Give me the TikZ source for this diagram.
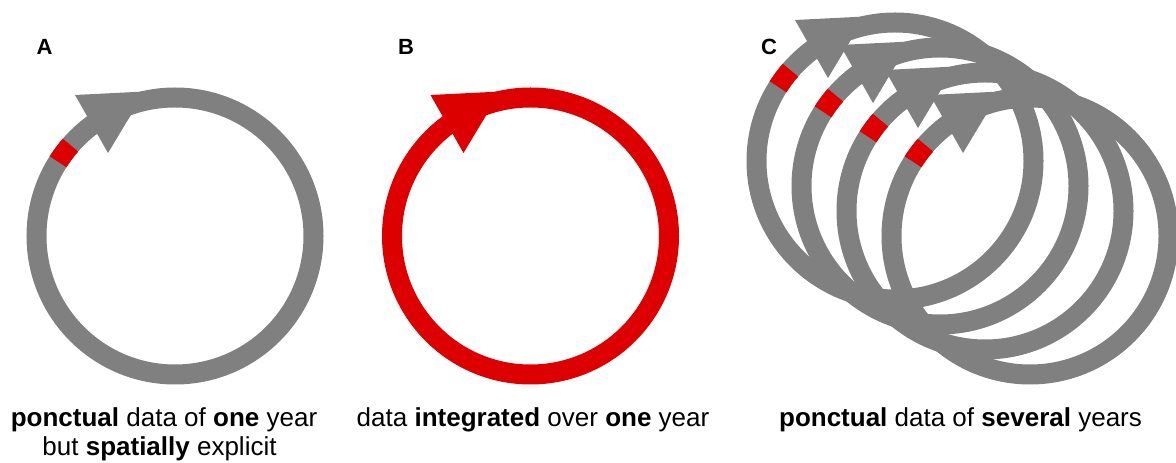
\documentclass[tikz,border=0pt]{standalone}
\usepackage{fontspec}
\setmainfont{Liberation Sans}
\usetikzlibrary{calc}
\definecolor{cgray}{RGB}{128,128,128}
\definecolor{cred}{RGB}{221,0,0}
\tikzset{
  ring/.style={line width=20pt},
  caption/.style={font=\fontsize{26}{30}\selectfont, anchor=base, inner sep=0pt},
  panel/.style={font=\fontsize{22}{26}\selectfont\bfseries, anchor=base, inner sep=0pt}
}
\newcommand{\yearloop}[4]{%
  \coordinate (#1) at (#2,#3);
  \draw[ring,#4] (#1) circle[radius=138.5pt];
  \fill[#4] ($(#1)+(-100pt,141pt)$) -- ($(#1)+(-67pt,83pt)$) -- ($(#1)+(-30pt,144.5pt)$) -- cycle;
}
\newcommand{\redtick}[1]{%
  \draw[ring,cred] ($(#1)+(147.6:138.5pt)$) arc[start angle=147.6, end angle=139, radius=138.5pt];
}
\begin{document}
\begin{tikzpicture}[x=1pt,y=1pt]
\useasboundingbox (0,0) rectangle (1176,463);
% panel A
\yearloop{ca}{175}{227}{cgray}
\redtick{ca}
% panel B
\yearloop{cb}{530.5}{227}{cred}
% panel C
\yearloop{c1}{895}{302}{cgray}
\redtick{c1}
\yearloop{c2}{940}{277}{cgray}
\redtick{c2}
\yearloop{c3}{985}{252}{cgray}
\redtick{c3}
\yearloop{c4}{1030}{227}{cgray}
\redtick{c4}
% panel letters
\node[panel] (la) at (44.5,408) {A};
\node[panel] (lb) at (406,408) {B};
\node[panel] (lc) at (769,408) {C};
% captions
\node[caption] (ta1) at (164,36) {\textbf{ponctual} data of \textbf{one} year};
\node[caption] (ta2) at (159.5,7) {but \textbf{spatially} explicit};
\node[caption] (tb) at (533,36) {data \textbf{integrated} over \textbf{one} year};
\node[caption] (tc) at (960.5,36) {\textbf{ponctual} data of \textbf{several} years};
\end{tikzpicture}
\end{document}
